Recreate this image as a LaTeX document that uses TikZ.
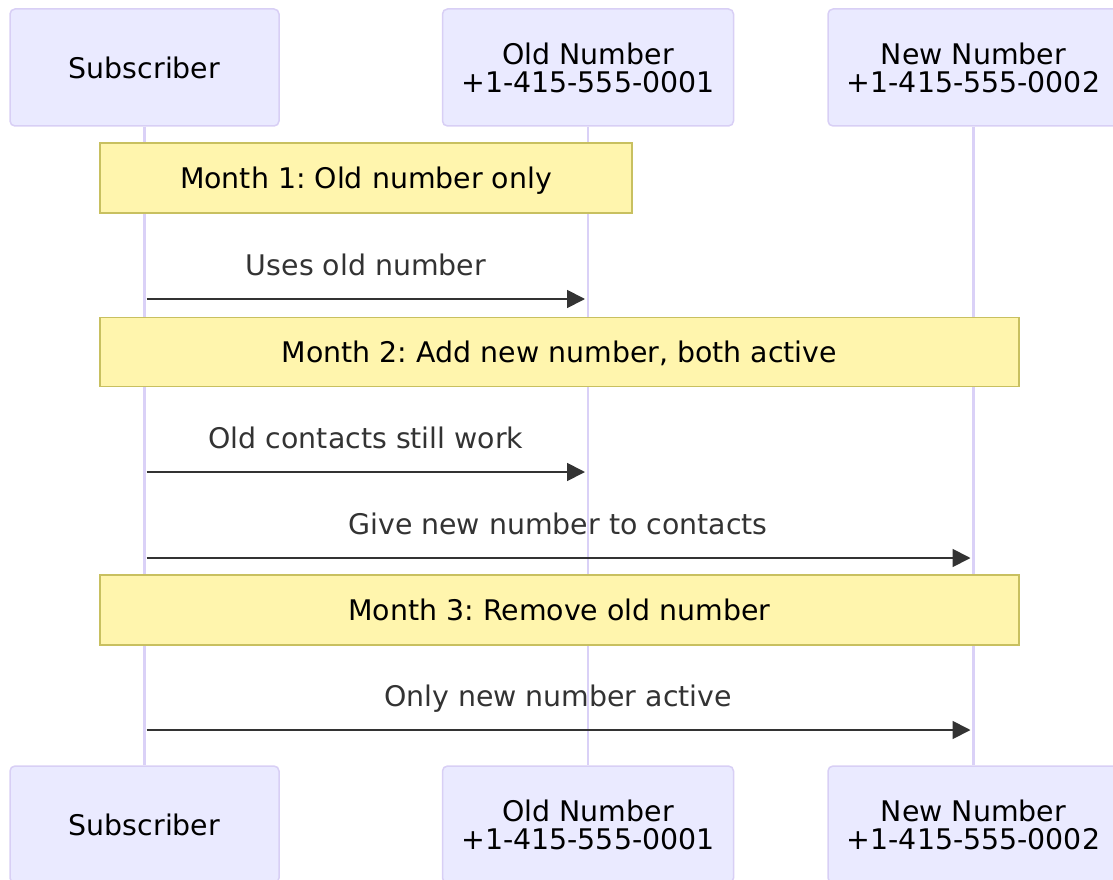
\documentclass[tikz,border=0pt]{standalone}
\usepackage{fontspec}
\setmainfont{DejaVu Sans}
\usetikzlibrary{arrows.meta}
\frenchspacing
\definecolor{actfill}{HTML}{EAEAFF}
\definecolor{actline}{HTML}{D8CFF5}
\definecolor{lifeline}{HTML}{DAD1F7}
\definecolor{notefill}{HTML}{FFF5AD}
\definecolor{noteline}{HTML}{C8C060}
\definecolor{msg}{HTML}{333333}
\tikzset{
  actor/.style={draw=actline, fill=actfill, line width=1.5pt, rounded corners=5pt,
    minimum height=117pt, inner sep=0pt, align=center, text=black,
    font=\fontsize{28.4}{28}\selectfont},
  notebox/.style={draw=noteline, fill=notefill, line width=1.8pt, inner sep=0pt,
    text height=20pt, text depth=0pt, text=black,
    font=\fontsize{28.4}{28}\selectfont},
  msglabel/.style={anchor=base, inner sep=0pt, text=msg,
    font=\fontsize{28.4}{28}\selectfont},
  msgarrow/.style={draw=msg, line width=1.8pt,
    -{Triangle[length=18pt,width=18pt]}},
  lline/.style={draw=lifeline, line width=2.6pt}
}
\begin{document}
\begin{tikzpicture}[x=1pt,y=-1pt]
\useasboundingbox (0,0) rectangle (1113,880);
% actors
\node[actor, minimum width=269pt] (subT) at (144.5,67.5) {Subscriber};
\node[actor, minimum width=291pt] (oldT) at (588,67.5) {Old Number\\+1-415-555-0001};
\node[actor, minimum width=291pt] (newT) at (973.5,67.5) {New Number\\+1-415-555-0002};
\node[actor, minimum width=269pt] (subB) at (144.5,824.5) {Subscriber};
\node[actor, minimum width=291pt] (oldB) at (588,824.5) {Old Number\\+1-415-555-0001};
\node[actor, minimum width=291pt] (newB) at (973.5,824.5) {New Number\\+1-415-555-0002};
% lifelines
\draw[lline] (subT.south) -- (subB.north);
\draw[lline] (oldT.south) -- (oldB.north);
\draw[lline] (newT.south) -- (newB.north);
% notes
\node[notebox, minimum width=532pt, minimum height=70pt] (n1) at (366,178) {Month 1: Old number only};
\node[notebox, minimum width=919pt, minimum height=69pt] (n2) at (559.5,352) {Month 2: Add new number, both active};
\node[notebox, minimum width=919pt, minimum height=70pt] (n3) at (559.5,610) {Month 3: Remove old number};
% messages
\node[msglabel] (m1) at (366,275) {Uses old number};
\node[msglabel] (m2) at (366,448) {Old contacts still work};
\node[msglabel] (m3) at (558,534) {Give new number to contacts};
\node[msglabel] (m4) at (558,706) {Only new number active};
\coordinate (a1) at (0,299);
\coordinate (a2) at (0,472);
\coordinate (a3) at (0,558);
\coordinate (a4) at (0,730);
\draw[msgarrow, shorten <=2pt, shorten >=3pt] (subT.south |- a1) -- (oldT.south |- a1);
\draw[msgarrow, shorten <=2pt, shorten >=3pt] (subT.south |- a2) -- (oldT.south |- a2);
\draw[msgarrow, shorten <=2pt, shorten >=3pt] (subT.south |- a3) -- (newT.south |- a3);
\draw[msgarrow, shorten <=2pt, shorten >=3pt] (subT.south |- a4) -- (newT.south |- a4);
\end{tikzpicture}
\end{document}
